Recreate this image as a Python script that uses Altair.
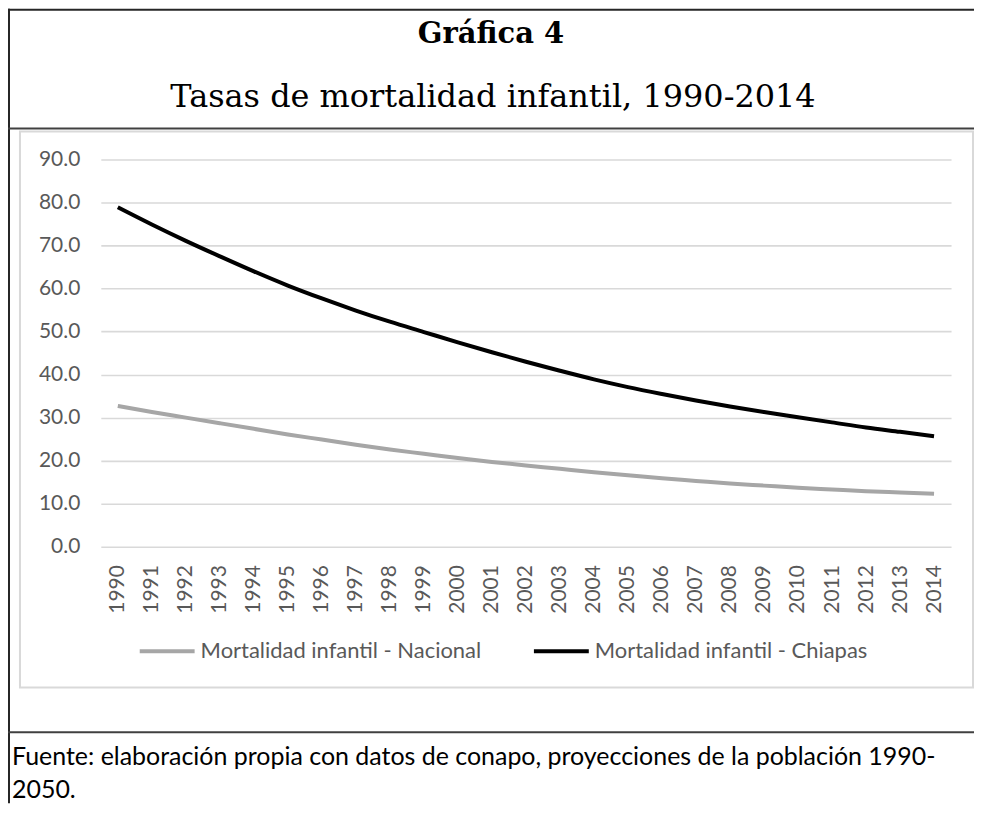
import altair as alt
import pandas as pd

years = [str(y) for y in range(1990, 2015)]
nacional = [32.7, 31.3, 30.0, 28.7, 27.4, 26.1, 24.9, 23.7, 22.6, 21.6, 20.6, 19.7,
            18.9, 18.1, 17.3, 16.6, 15.9, 15.3, 14.7, 14.2, 13.7, 13.3, 12.9, 12.6, 12.3]
chiapas = [78.9, 74.9, 71.1, 67.5, 64.0, 60.7, 57.7, 54.9, 52.3, 49.9, 47.5, 45.2,
           43.0, 40.9, 38.9, 37.1, 35.5, 34.0, 32.6, 31.3, 30.1, 28.9, 27.7, 26.7, 25.7]
series_names = ["Mortalidad infantil - Nacional", "Mortalidad infantil - Chiapas"]
series_colors = ["#a6a6a6", "#000000"]
y_ticks = [0, 10, 20, 30, 40, 50, 60, 70, 80, 90]

title_text = "Gráfica 4"
subtitle_text = "Tasas de mortalidad infantil, 1990-2014"
source_line1 = "Fuente: elaboración propia con datos de conapo, proyecciones de la población 1990-"
source_line2 = "2050."

rows = []
for name, vals in zip(series_names, [nacional, chiapas]):
    for yr, v in zip(years, vals):
        rows.append({"year": yr, "value": v, "serie": name})
df = pd.DataFrame(rows)
one = pd.DataFrame({"k": [0]})

SANS = "Lato"
SERIF = "DejaVu Serif"

lines = alt.Chart(df).mark_line(strokeWidth=4, interpolate="monotone").encode(
    x=alt.X("year:O", sort=years,
            scale=alt.Scale(type="point", padding=0.5),
            axis=alt.Axis(title=None, labelAngle=270, labelAlign="right",
                          labelBaseline="middle", labelPadding=18, ticks=False,
                          domain=False, grid=False, labelFont=SANS, labelFontSize=21,
                          labelColor="#595959")),
    y=alt.Y("value:Q", scale=alt.Scale(domain=[0, 90], nice=False, zero=True),
            axis=alt.Axis(title=None, values=y_ticks, format=".1f", ticks=False,
                          domain=False, grid=True, gridColor="#d9d9d9", gridWidth=1.6,
                          labelPadding=21, labelFont=SANS, labelFontSize=21,
                          labelColor="#595959")),
    color=alt.Color("serie:N", sort=series_names,
                    scale=alt.Scale(domain=series_names, range=series_colors),
                    legend=alt.Legend(title=None, orient="none", legendX=37, legendY=463,
                                      direction="horizontal", symbolType="stroke",
                                      symbolStrokeWidth=4, symbolSize=3025,
                                      labelFont=SANS, labelFontSize=22,
                                      labelColor="#595959", labelLimit=0,
                                      labelOffset=4, columnPadding=44)),
)

def rule(x, x2, y, y2, color, width):
    return alt.Chart(one).mark_rule(color=color, strokeWidth=width).encode(
        x=alt.value(x), x2=alt.value(x2), y=alt.value(y), y2=alt.value(y2))

frame_top = rule(-93, 875, -150, -150, "#262626", 2)
frame_left = rule(-92, -92, -151, 645, "#262626", 2)
frame_mid = rule(-93, 875, -31, -31, "#404040", 2)
frame_foot = rule(-93, 875, 574, 574, "#404040", 2)

inner_box = alt.Chart(one).mark_rect(fillOpacity=0, stroke="#d9d9d9", strokeWidth=2).encode(
    x=alt.value(-81), x2=alt.value(874), y=alt.value(-28), y2=alt.value(529))

def text(t, x, y, font, size, weight="normal", align="center", color="black"):
    return alt.Chart(one).mark_text(text=t, font=font, fontSize=size, fontWeight=weight,
                                    align=align, baseline="middle", color=color).encode(
        x=alt.value(x), y=alt.value(y))

title = text(title_text, 391, -126, SERIF, 29, weight="bold")
subtitle = text(subtitle_text, 393, -63, SERIF, 32)
src1 = text(source_line1, -89, 599, SANS, 25, align="left")
src2 = text(source_line2, -89, 632, SANS, 25, align="left")

chart = alt.layer(
    inner_box, frame_top, frame_left, frame_mid, frame_foot,
    title, subtitle, src1, src2, lines
).properties(
    width=852, height=388,
    autosize=alt.AutoSizeParams(type="none"),
    padding={"left": 93, "top": 151, "right": 23, "bottom": 263},
    background="white",
).configure_view(stroke=None)

chart.save("out.html", embed_options={"renderer": "svg", "actions": False})
